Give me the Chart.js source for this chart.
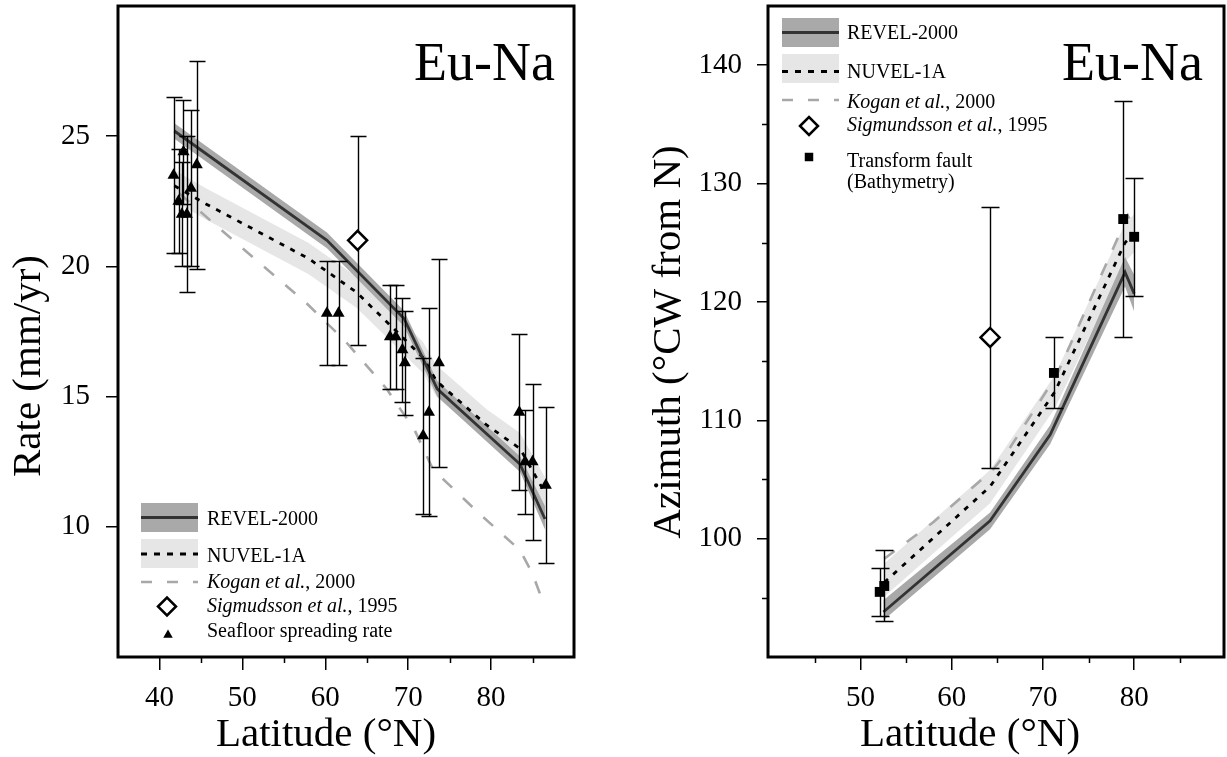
<!DOCTYPE html>
<html>
<head>
<meta charset="utf-8">
<script src="https://cdn.jsdelivr.net/npm/chart.js@4.4.0/dist/chart.umd.min.js"></script>
<style>
  html, body { margin: 0; padding: 0; background: #fff; }
  #wrap { position: relative; width: 1227px; height: 757px; overflow: hidden; }
  canvas { position: absolute; top: 0; }
  #left  { left: 0; width: 600px; height: 757px; }
  #right { left: 620px; width: 607px; height: 757px; }
</style>
</head>
<body>
<div id="wrap">
  <canvas id="left" width="600" height="757"></canvas>
  <canvas id="right" width="607" height="757"></canvas>
</div>
<script>
const SERIF = "'Liberation Serif', 'Times New Roman', serif";

// ====== left panel: rate ======
const latTicksL = [40, 50, 60, 70, 80];
const latMinorL = [45, 55, 65, 75, 85];
const rateTicks = [10, 15, 20, 25];

const revelLatL   = [41.8, 60.2, 69.5, 73.5, 83.5, 86.5];
const revelRate   = [25.2, 21.0, 18.0, 15.3, 12.4, 10.3];
const revelRateHi = [25.5, 21.3, 18.3, 15.6, 12.7, 10.8];
const revelRateLo = [24.9, 20.7, 17.7, 15.0, 12.1, 9.9];

const nuvelLatL   = [41.8, 45.6, 58.0, 63.8, 67.0, 71.8, 73.4, 79.5, 83.5, 86.5];
const nuvelRate   = [23.1, 22.4, 20.3, 19.0, 18.0, 16.5, 15.6, 13.9, 13.0, 11.3];
const nuvelRateHi = [23.7, 23.0, 20.9, 19.6, 18.6, 17.1, 16.2, 14.5, 13.6, 11.9];
const nuvelRateLo = [22.5, 21.8, 19.7, 18.4, 17.4, 15.9, 15.0, 13.3, 12.4, 10.7];

const koganLatL = [42.4, 50.0, 57.7, 62.5, 67.4, 70.8, 73.0, 78.6, 83.5, 85.0, 86.5];
const koganRate = [22.8, 20.7, 18.6, 17.1, 15.3, 13.7, 12.2, 10.5, 9.1, 8.2, 6.9];

const sigLatL  = [63.9];
const sigRate  = [21.0];
const sigErrL  = [4];

const seaLat  = [41.7, 42.3, 42.9, 42.7, 43.3, 43.8, 44.5, 60.2, 61.6, 67.8, 68.5, 69.3, 69.6, 71.8, 72.5, 73.7, 83.4, 84.1, 85.0, 86.6];
const seaRate = [23.5, 22.5, 24.4, 22.0, 22.0, 23.0, 23.9, 18.2, 18.2, 17.3, 17.3, 16.8, 16.3, 13.5, 14.4, 16.3, 14.4, 12.5, 12.5, 11.6];
const seaErr  = [3, 2, 2, 2, 3, 3, 4, 2, 2, 2, 2, 2, 2, 3, 4, 4, 3, 2, 3, 3];

// ====== right panel: azimuth ======
const latTicksR = [50, 60, 70, 80];
const latMinorR = [45, 55, 65, 75, 85];
const azTicks   = [100, 110, 120, 130, 140];
const azMinor   = [95, 105, 115, 125, 135];

const revelLatR = [52.5, 64.2, 70.8, 79.0, 80.0];
const revelAz   = [93.8, 101.5, 108.8, 122.5, 120.7];
const revelAzHi = [94.8, 102.2, 109.6, 123.8, 122.3];
const revelAzLo = [93.1, 100.8, 108.0, 121.3, 119.2];

const nuvelLatR = [52.6, 64.2, 71.3, 79.0, 80.0];
const nuvelAz   = [96.3, 104.4, 112.4, 125.0, 125.8];
const nuvelAzHi = [97.9, 105.8, 113.8, 126.6, 127.4];
const nuvelAzLo = [95.1, 103.0, 111.0, 123.4, 124.2];

const koganLatR = [52.6, 58.0, 64.6, 66.4, 71.5, 79.3, 80.0];
const koganAz   = [98.3, 101.4, 105.9, 107.7, 113.8, 127.3, 126.2];

const sigLatR = [64.2];
const sigAz   = [117.0];
const sigErrR = [11];

const tfLat = [52.1, 52.6, 71.2, 78.8, 80.0];
const tfAz  = [95.5, 96.0, 114.0, 127.0, 125.5];
const tfErr = [2, 3, 3, 10, 5];

// ====== legend texts ======
const legendLeft = [
  {kind: 'revel',    parts: [['REVEL-2000', false]]},
  {kind: 'nuvel',    parts: [['NUVEL-1A', false]]},
  {kind: 'kogan',    parts: [['Kogan et al.', true], [', 2000', false]]},
  {kind: 'diamond',  parts: [['Sigmudsson et al.', true], [', 1995', false]]},
  {kind: 'triangle', parts: [['Seafloor spreading rate', false]]}
];
const legendRight = [
  {kind: 'revel',   parts: [['REVEL-2000', false]]},
  {kind: 'nuvel',   parts: [['NUVEL-1A', false]]},
  {kind: 'kogan',   parts: [['Kogan et al.', true], [', 2000', false]]},
  {kind: 'diamond', parts: [['Sigmundsson et al.', true], [', 1995', false]]},
  {kind: 'square',  parts: [['Transform fault', false]], second: '(Bathymetry)'}
];

// ====== styles ======
const REVEL_LINE = '#333333';
const REVEL_BAND = '#a9a9a9';
const NUVEL_BAND = '#e6e6e6';
const KOGAN_LINE = '#a8a8a8';
const NUVEL_DASH = [5, 7];
const KOGAN_DASH = [13, 15];

const pts = (xs, ys) => xs.map((x, i) => ({x, y: ys[i]}));

// error bars go down before the point symbols, over bands and lines
const errorBars = {
  id: 'errorBars',
  beforeDatasetDraw(chart, args, opts) {
    if (!chart.data.datasets[args.index].barsFirst) return;
    const {ctx, scales: {x, y}} = chart;
    ctx.save();
    ctx.strokeStyle = '#000';
    ctx.lineWidth = 1.4;
    chart.data.datasets.forEach(ds => {
      if (!ds.err) return;
      ds.data.forEach((p, i) => {
        const px = Math.round(x.getPixelForValue(p.x)) + 0.5;
        const top = Math.round(y.getPixelForValue(p.y + ds.err[i])) + 0.5;
        const bot = Math.round(y.getPixelForValue(p.y - ds.err[i])) + 0.5;
        ctx.beginPath();
        ctx.moveTo(px, top); ctx.lineTo(px, bot);
        ctx.moveTo(px - opts.cap, top); ctx.lineTo(px + opts.cap, top);
        ctx.moveTo(px - opts.cap, bot); ctx.lineTo(px + opts.cap, bot);
        ctx.stroke();
      });
    });
    ctx.restore();
  }
};

function drawParts(ctx, parts, x, y, size) {
  parts.forEach(([t, it]) => {
    ctx.font = (it ? 'italic ' : '') + size + 'px ' + SERIF;
    ctx.fillText(t, x, y);
    x += ctx.measureText(t).width;
  });
}

function drawLegend(ctx, lg) {
  ctx.save();
  lg.rows.forEach((r, i) => {
    const g = lg.geo[i];
    if (r.kind === 'revel' || r.kind === 'nuvel') {
      ctx.fillStyle = r.kind === 'revel' ? REVEL_BAND : NUVEL_BAND;
      ctx.fillRect(lg.x0, g.bandTop, lg.x1 - lg.x0, g.bandH);
      ctx.beginPath();
      ctx.strokeStyle = r.kind === 'revel' ? REVEL_LINE : '#000';
      ctx.lineWidth = 2.8;
      ctx.setLineDash(r.kind === 'revel' ? [] : [6, 7]);
      ctx.moveTo(lg.x0, g.line); ctx.lineTo(lg.x1, g.line);
      ctx.stroke();
    } else if (r.kind === 'kogan') {
      ctx.beginPath();
      ctx.strokeStyle = KOGAN_LINE;
      ctx.lineWidth = 2.6;
      ctx.setLineDash([11, 15]);
      ctx.moveTo(lg.x0, g.line); ctx.lineTo(lg.x1, g.line);
      ctx.stroke();
    } else {
      ctx.setLineDash([]);
      const opt = {
        diamond:  {pointStyle: 'rectRot', radius: 9, borderWidth: 2.5, fill: '#fff'},
        triangle: {pointStyle: 'triangle', radius: 5.5, borderWidth: 0, fill: '#000'},
        square:   {pointStyle: 'rect', radius: 6, borderWidth: 0, fill: '#000'}
      }[r.kind];
      ctx.fillStyle = opt.fill;
      ctx.strokeStyle = '#000';
      ctx.lineWidth = opt.borderWidth;
      Chart.helpers.drawPoint(ctx, {pointStyle: opt.pointStyle, radius: opt.radius, rotation: 0, borderWidth: opt.borderWidth}, g.sx, g.sy);
    }
    ctx.setLineDash([]);
    ctx.fillStyle = '#000';
    ctx.textAlign = 'left';
    ctx.textBaseline = 'alphabetic';
    drawParts(ctx, r.parts, lg.tx, g.base, 20);
    if (r.second) drawParts(ctx, [[r.second, false]], lg.tx, g.base2, 20);
  });
  ctx.restore();
}

// frame, minor ticks, axis titles, panel name, legend
const decor = {
  id: 'decor',
  afterDraw(chart, args, o) {
    const {ctx, chartArea: a, scales: {x, y}} = chart;
    ctx.save();
    ctx.strokeStyle = '#000';
    ctx.lineWidth = 1.5;
    ctx.beginPath();
    o.minorX.forEach(v => {
      const px = Math.round(x.getPixelForValue(v)) + 0.5;
      ctx.moveTo(px, a.bottom); ctx.lineTo(px, a.bottom + o.minorLen);
    });
    o.minorY.forEach(v => {
      const py = Math.round(y.getPixelForValue(v)) + 0.5;
      ctx.moveTo(a.left, py); ctx.lineTo(a.left - o.minorLen, py);
    });
    ctx.stroke();

    ctx.lineWidth = 3;
    ctx.strokeRect(a.left, a.top, a.right - a.left, a.bottom - a.top);

    ctx.fillStyle = '#000';
    ctx.textBaseline = 'alphabetic';
    ctx.font = '54px ' + SERIF;
    ctx.textAlign = 'right';
    ctx.fillText(o.name.text, o.name.x, o.name.y);

    ctx.font = '41px ' + SERIF;
    ctx.textAlign = 'center';
    ctx.fillText(o.xTitle.text, o.xTitle.x, o.xTitle.y);
    ctx.save();
    ctx.translate(o.yTitle.x, o.yTitle.y);
    ctx.rotate(-Math.PI / 2);
    ctx.fillText(o.yTitle.text, 0, 0);
    ctx.restore();
    ctx.restore();

    drawLegend(ctx, o.legend);
  }
};

function axisX(min, max, ticks) {
  return {
    type: 'linear', min, max,
    afterBuildTicks: s => { s.ticks = ticks.map(v => ({value: v})); },
    afterFit: s => { s.height = 100; s.paddingLeft = 0; s.paddingRight = 0; },
    border: {display: false},
    grid: {drawOnChartArea: false, tickLength: 13, color: '#000', lineWidth: 1.5},
    ticks: {color: '#000', font: {family: SERIF, size: 29}, padding: 11, maxRotation: 0, autoSkip: false}
  };
}
function axisY(min, max, ticks, width, tl, pad) {
  return {
    type: 'linear', min, max,
    afterBuildTicks: s => { s.ticks = ticks.map(v => ({value: v})); },
    afterFit: s => { s.width = width; s.paddingTop = 0; s.paddingBottom = 0; },
    border: {display: false},
    grid: {drawOnChartArea: false, tickLength: tl, color: '#000', lineWidth: 1.5},
    ticks: {color: '#000', font: {family: SERIF, size: 29}, padding: pad, autoSkip: false}
  };
}

function datasets(d) {
  const line = {showLine: true, pointRadius: 0, fill: false};
  const band = {showLine: true, pointRadius: 0, borderWidth: 0, borderColor: 'rgba(0,0,0,0)'};
  return [
    {...line, data: pts(d.revelLat, d.revel), borderColor: REVEL_LINE, borderWidth: 2.8, order: 6},
    {...line, data: pts(d.nuvelLat, d.nuvel), borderColor: '#000', borderWidth: 2.8, borderDash: NUVEL_DASH, order: 7},
    {...line, data: pts(d.koganLat, d.kogan), borderColor: KOGAN_LINE, borderWidth: 2.6, borderDash: KOGAN_DASH, order: 8},
    {...band, data: pts(d.revelLat, d.revelHi), fill: false, order: 9},
    {...band, data: pts(d.revelLat, d.revelLo), fill: '-1', backgroundColor: REVEL_BAND, order: 9},
    {...band, data: pts(d.nuvelLat, d.nuvelHi), fill: false, order: 10},
    {...band, data: pts(d.nuvelLat, d.nuvelLo), fill: '-1', backgroundColor: NUVEL_BAND, order: 10},
    {data: pts(d.sigLat, d.sig), err: d.sigErr, showLine: false, pointStyle: 'rectRot', pointRadius: 9.5,
     backgroundColor: '#fff', borderColor: '#000', borderWidth: 2.5, order: 2, barsFirst: true},
    {data: pts(d.obsLat, d.obs), err: d.obsErr, showLine: false, pointStyle: d.obsStyle, pointRadius: d.obsRadius,
     backgroundColor: '#000', borderColor: '#000', borderWidth: 0, order: 1}
  ];
}

function build() {
  const common = {
    responsive: false, animation: false, devicePixelRatio: 1, events: [],
    plugins: {legend: {display: false}, tooltip: {enabled: false}}
  };

  new Chart(document.getElementById('left'), {
    type: 'line',
    data: {datasets: datasets({
      revelLat: revelLatL, revel: revelRate, revelHi: revelRateHi, revelLo: revelRateLo,
      nuvelLat: nuvelLatL, nuvel: nuvelRate, nuvelHi: nuvelRateHi, nuvelLo: nuvelRateLo,
      koganLat: koganLatL, kogan: koganRate,
      sigLat: sigLatL, sig: sigRate, sigErr: sigErrL,
      obsLat: seaLat, obs: seaRate, obsErr: seaErr, obsStyle: 'triangle', obsRadius: 7
    })},
    options: {
      ...common,
      layout: {autoPadding: false, padding: {top: 6, right: 26, bottom: 0, left: 0}},
      scales: {x: axisX(35, 90, latTicksL), y: axisY(5, 30, rateTicks, 118, 12, 16)},
      plugins: {
        ...common.plugins,
        errorBars: {cap: 8},
        decor: {
          minorX: latMinorL, minorY: [], minorLen: 6,
          name: {text: 'Eu-Na', x: 555, y: 80},
          xTitle: {text: 'Latitude (°N)', x: 326, y: 746},
          yTitle: {text: 'Rate (mm/yr)', x: 40, y: 366},
          legend: {
            x0: 141, x1: 198, tx: 207, rows: legendLeft,
            geo: [
              {bandTop: 503, bandH: 29, line: 517.5, base: 525},
              {bandTop: 539, bandH: 29, line: 554, base: 561.5},
              {line: 582, base: 588},
              {sx: 167, sy: 606.5, base: 611.5},
              {sx: 168, sy: 635, base: 636.5}
            ]
          }
        }
      }
    },
    plugins: [errorBars, decor]
  });

  const R = 620;
  new Chart(document.getElementById('right'), {
    type: 'line',
    data: {datasets: datasets({
      revelLat: revelLatR, revel: revelAz, revelHi: revelAzHi, revelLo: revelAzLo,
      nuvelLat: nuvelLatR, nuvel: nuvelAz, nuvelHi: nuvelAzHi, nuvelLo: nuvelAzLo,
      koganLat: koganLatR, kogan: koganAz,
      sigLat: sigLatR, sig: sigAz, sigErr: sigErrR,
      obsLat: tfLat, obs: tfAz, obsErr: tfErr, obsStyle: 'rect', obsRadius: 7
    })},
    options: {
      ...common,
      layout: {autoPadding: false, padding: {top: 6, right: 3, bottom: 0, left: 0}},
      scales: {x: axisX(39.85, 89.85, latTicksR), y: axisY(90, 145, azTicks, 148, 11, 15)},
      plugins: {
        ...common.plugins,
        errorBars: {cap: 9},
        decor: {
          minorX: latMinorR, minorY: azMinor, minorLen: 6,
          name: {text: 'Eu-Na', x: 1203 - R, y: 80},
          xTitle: {text: 'Latitude (°N)', x: 970 - R, y: 746},
          yTitle: {text: 'Azimuth (°CW from N)', x: 680 - R, y: 342},
          legend: {
            x0: 782 - R, x1: 839 - R, tx: 847 - R, rows: legendRight,
            geo: [
              {bandTop: 18, bandH: 29, line: 32.5, base: 38.5},
              {bandTop: 54, bandH: 29, line: 71.5, base: 77.5},
              {line: 100, base: 108},
              {sx: 809 - R, sy: 126, base: 130.5},
              {sx: 809 - R, sy: 157, base: 166.5, base2: 188}
            ]
          }
        }
      }
    },
    plugins: [errorBars, decor]
  });
}

Promise.all([
  document.fonts.load('29px "Liberation Serif"'),
  document.fonts.load('italic 20px "Liberation Serif"')
]).then(build, build);
</script>
</body>
</html>
